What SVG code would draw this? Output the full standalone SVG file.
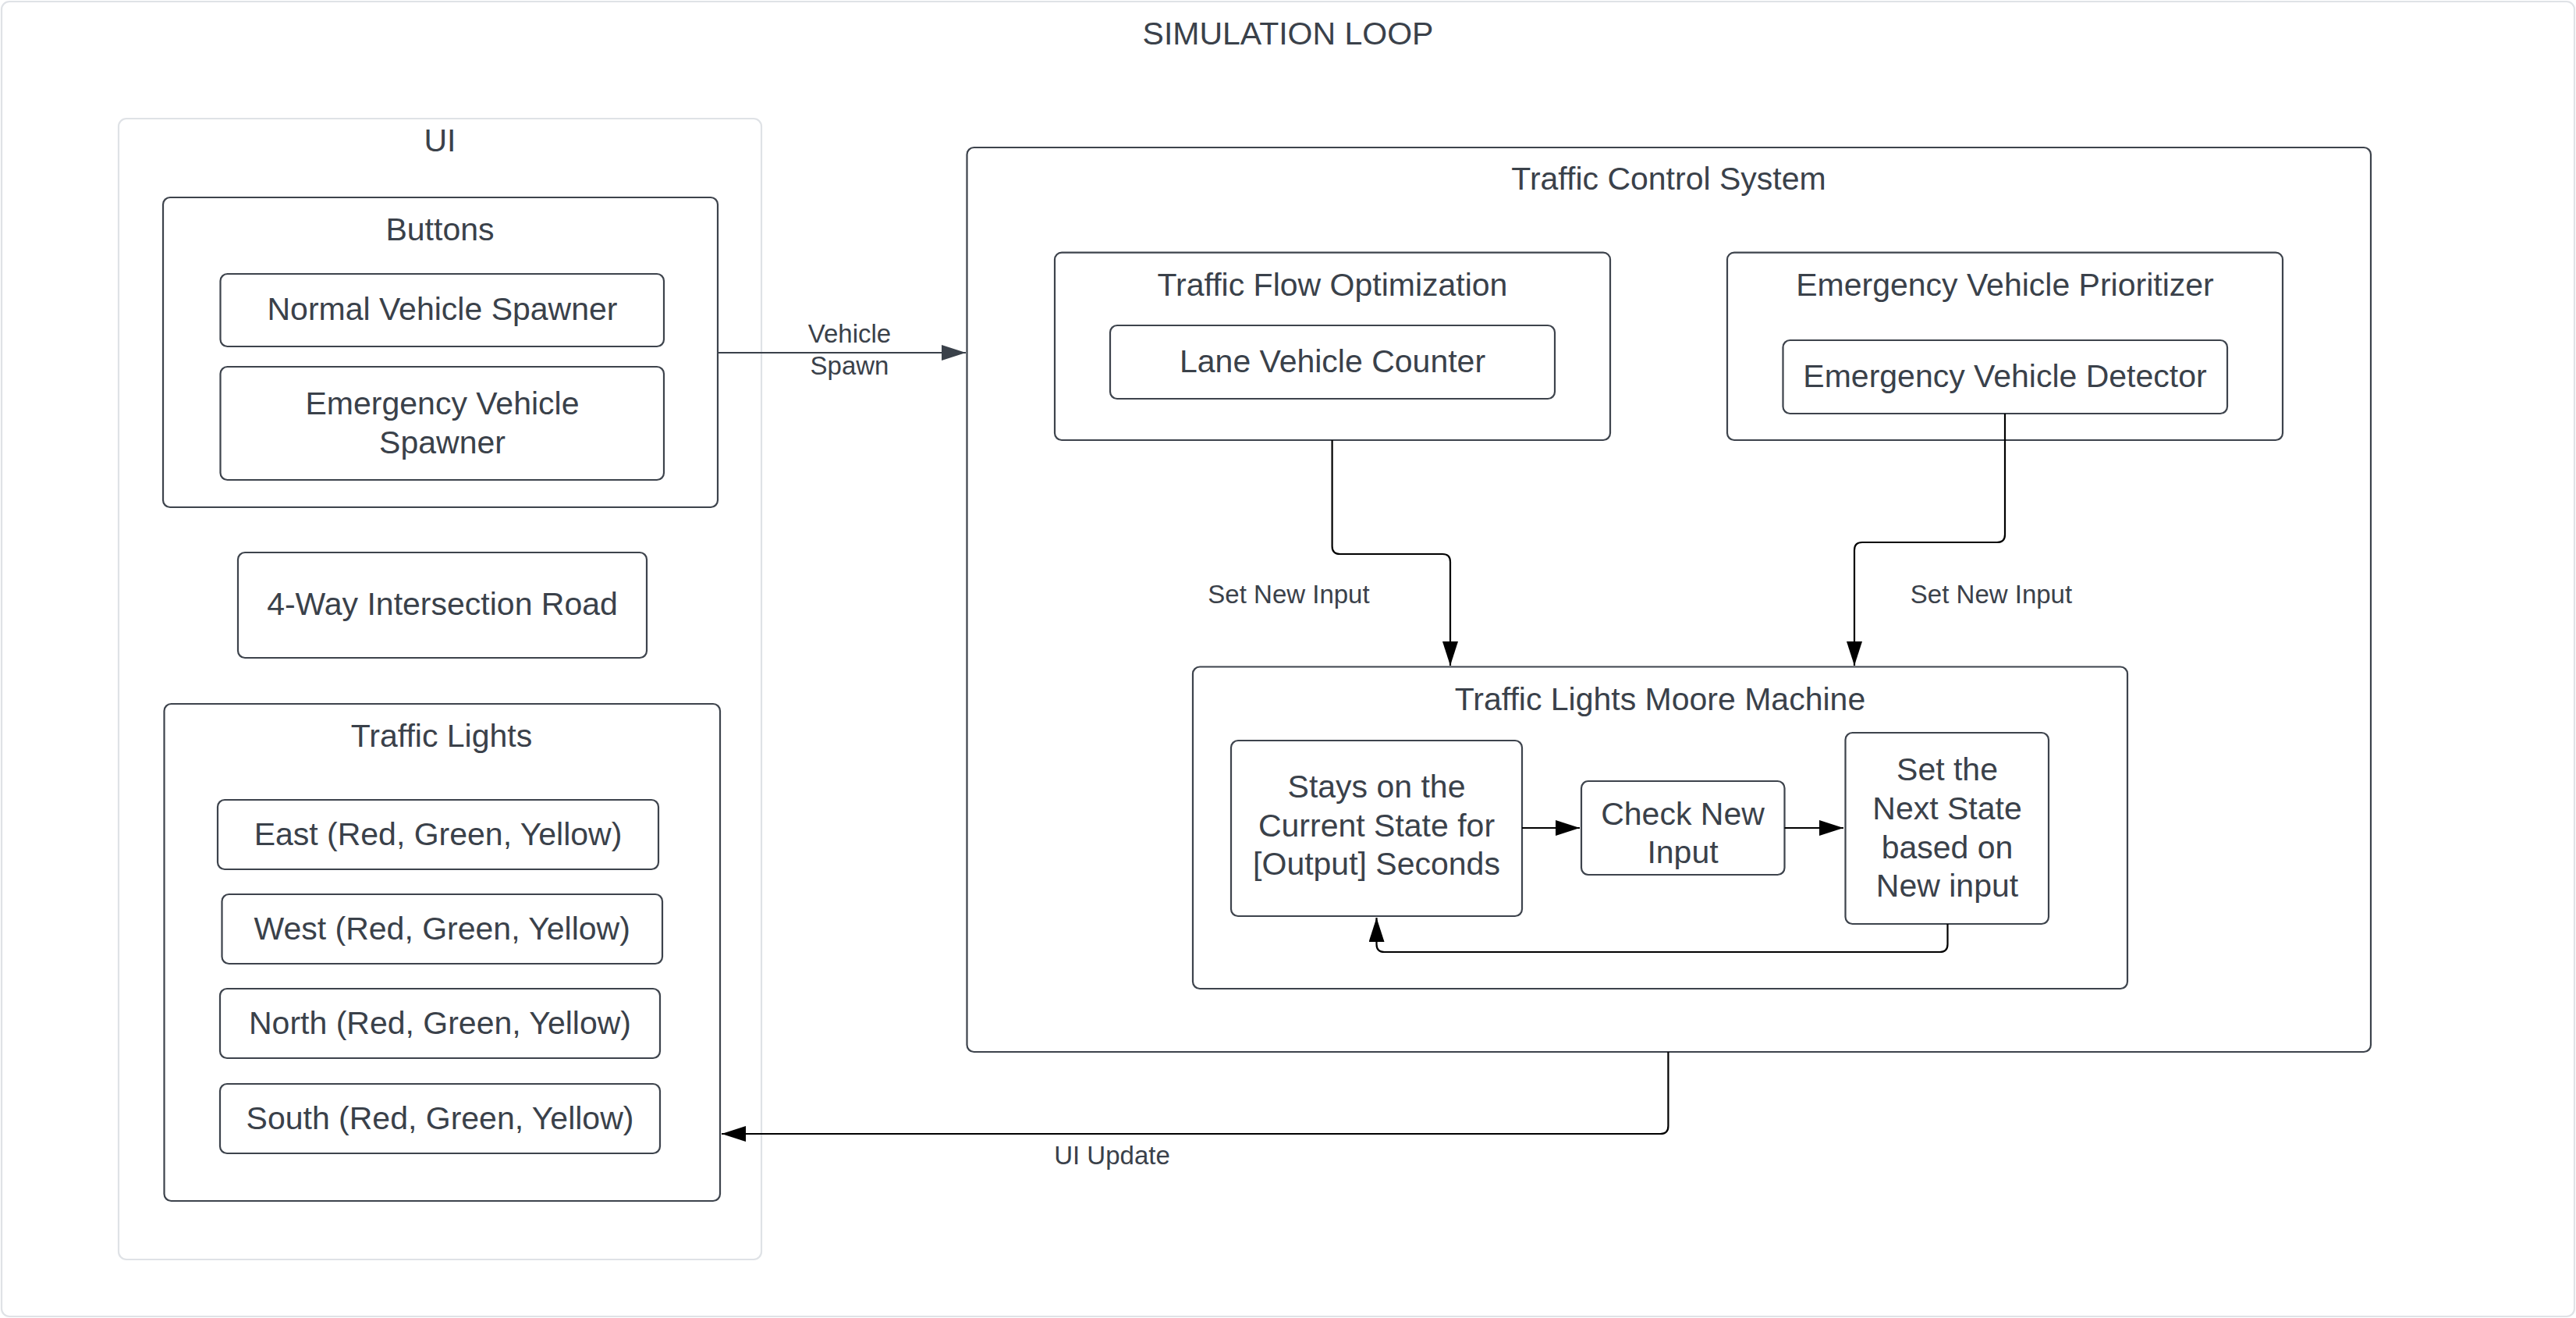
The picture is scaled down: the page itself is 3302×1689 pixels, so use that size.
<svg xmlns="http://www.w3.org/2000/svg" width="3302" height="1689" viewBox="0 0 3302 1689">
<style>
text{font-family:"Liberation Sans",Arial,sans-serif;fill:#3a414a;text-anchor:middle}
.t{font-size:41px}
.l{font-size:33px}
.box{fill:#ffffff;stroke:#3d434c;stroke-width:2.2}
.cont{fill:#ffffff;stroke:#dfe2e6;stroke-width:2.2}
.c{fill:none;stroke:#000000;stroke-width:2.2}
.cg{fill:none;stroke:#3a414a;stroke-width:2.2}
</style>
<defs>
<marker id="ah" markerUnits="userSpaceOnUse" viewBox="0 0 31 20" markerWidth="31" markerHeight="20" refX="31" refY="10" orient="auto">
<path d="M0,0 L31,10 L0,20 Z" fill="#000000"/>
</marker>
<marker id="ahg" markerUnits="userSpaceOnUse" viewBox="0 0 31 20" markerWidth="31" markerHeight="20" refX="31" refY="10" orient="auto">
<path d="M0,0 L31,10 L0,20 Z" fill="#3a414a"/>
</marker>
</defs>
<rect width="3302" height="1689" fill="#ffffff"/>
<g id="simulation-loop">
<rect class="cont" x="2" y="2" width="3298" height="1685" rx="10"/>
<text class="t" x="1651" y="57">SIMULATION LOOP</text>
</g>
<g id="ui">
<rect class="cont" x="152" y="152" width="824" height="1462" rx="10"/>
<text class="t" x="564" y="194">UI</text>
</g>
<g id="buttons">
<rect class="box" x="209" y="253" width="711" height="397" rx="9"/>
<text class="t" x="564" y="308">Buttons</text>
</g>
<g id="normal-vehicle-spawner">
<rect class="box" x="282.5" y="351" width="568.5" height="93" rx="9"/>
<text class="t" x="567" y="410">Normal Vehicle Spawner</text>
</g>
<g id="emergency-vehicle-spawner">
<rect class="box" x="282.5" y="470" width="568.5" height="145" rx="9"/>
<text class="t" x="567" y="531">Emergency Vehicle</text>
<text class="t" x="567" y="581">Spawner</text>
</g>
<g id="intersection-road">
<rect class="box" x="305" y="708" width="524" height="135" rx="9"/>
<text class="t" x="567" y="788">4-Way Intersection Road</text>
</g>
<g id="traffic-lights">
<rect class="box" x="210.5" y="902" width="712.5" height="637" rx="9"/>
<text class="t" x="566" y="957">Traffic Lights</text>
</g>
<g id="east">
<rect class="box" x="279" y="1025" width="565" height="89" rx="9"/>
<text class="t" x="561.5" y="1083">East (Red, Green, Yellow)</text>
</g>
<g id="west">
<rect class="box" x="284.5" y="1146" width="564.5" height="89" rx="9"/>
<text class="t" x="566.7" y="1204">West (Red, Green, Yellow)</text>
</g>
<g id="north">
<rect class="box" x="282" y="1267" width="564" height="89" rx="9"/>
<text class="t" x="564" y="1325">North (Red, Green, Yellow)</text>
</g>
<g id="south">
<rect class="box" x="282" y="1389" width="564" height="89" rx="9"/>
<text class="t" x="564" y="1447">South (Red, Green, Yellow)</text>
</g>
<g id="traffic-control-system">
<rect class="box" x="1239.5" y="189" width="1799.5" height="1159" rx="9"/>
<text class="t" x="2139" y="243">Traffic Control System</text>
</g>
<g id="traffic-flow-optimization">
<rect class="box" x="1352" y="323.6" width="712" height="240.4" rx="9"/>
<text class="t" x="1708" y="378.6">Traffic Flow Optimization</text>
</g>
<g id="lane-vehicle-counter">
<rect class="box" x="1423" y="417" width="570" height="94" rx="9"/>
<text class="t" x="1708" y="477">Lane Vehicle Counter</text>
</g>
<g id="emergency-vehicle-prioritizer">
<rect class="box" x="2214" y="323.6" width="712" height="240.4" rx="9"/>
<text class="t" x="2570" y="378.6">Emergency Vehicle Prioritizer</text>
</g>
<g id="emergency-vehicle-detector">
<rect class="box" x="2285.5" y="436" width="569.5" height="94" rx="9"/>
<text class="t" x="2570" y="496">Emergency Vehicle Detector</text>
</g>
<g id="moore-machine">
<rect class="box" x="1529" y="854.5" width="1198" height="412.5" rx="9"/>
<text class="t" x="2128" y="910">Traffic Lights Moore Machine</text>
</g>
<g id="stay-state">
<rect class="box" x="1578" y="949" width="373" height="225" rx="9"/>
<text class="t" x="1764.5" y="1022">Stays on the</text>
<text class="t" x="1764.5" y="1071.5">Current State for</text>
<text class="t" x="1764.5" y="1121">[Output] Seconds</text>
</g>
<g id="check-input">
<rect class="box" x="2027" y="1001" width="260.5" height="120" rx="9"/>
<text class="t" x="2157" y="1057">Check New</text>
<text class="t" x="2157" y="1106">Input</text>
</g>
<g id="set-next-state">
<rect class="box" x="2365.5" y="939" width="260.5" height="245" rx="9"/>
<text class="t" x="2496" y="1000">Set the</text>
<text class="t" x="2496" y="1050">Next State</text>
<text class="t" x="2496" y="1100">based on</text>
<text class="t" x="2496" y="1149">New input</text>
</g>
<g id="connectors">
<path class="cg" d="M921,452 H1238" marker-end="url(#ahg)"/>
<text class="l" x="1089" y="439">Vehicle</text>
<text class="l" x="1089" y="480">Spawn</text>
<path class="c" d="M1707.6,564 V700 Q1707.6,710 1717.6,710 H1849 Q1859,710 1859,720 V853" marker-end="url(#ah)"/>
<text class="l" x="1652" y="773">Set New Input</text>
<path class="c" d="M2570,530 V685 Q2570,695 2560,695 H2387 Q2377,695 2377,705 V853" marker-end="url(#ah)"/>
<text class="l" x="2552.5" y="773">Set New Input</text>
<path class="c" d="M1951,1061 H2025" marker-end="url(#ah)"/>
<path class="c" d="M2287.5,1061 H2363" marker-end="url(#ah)"/>
<path class="c" d="M2496.5,1184 V1210 Q2496.5,1220 2486.5,1220 H1774.5 Q1764.5,1220 1764.5,1210 V1176" marker-end="url(#ah)"/>
<path class="c" d="M2138.4,1348 V1443 Q2138.4,1453 2128.4,1453 H925" marker-end="url(#ah)"/>
<text class="l" x="1425.5" y="1492">UI Update</text>
</g>
</svg>
